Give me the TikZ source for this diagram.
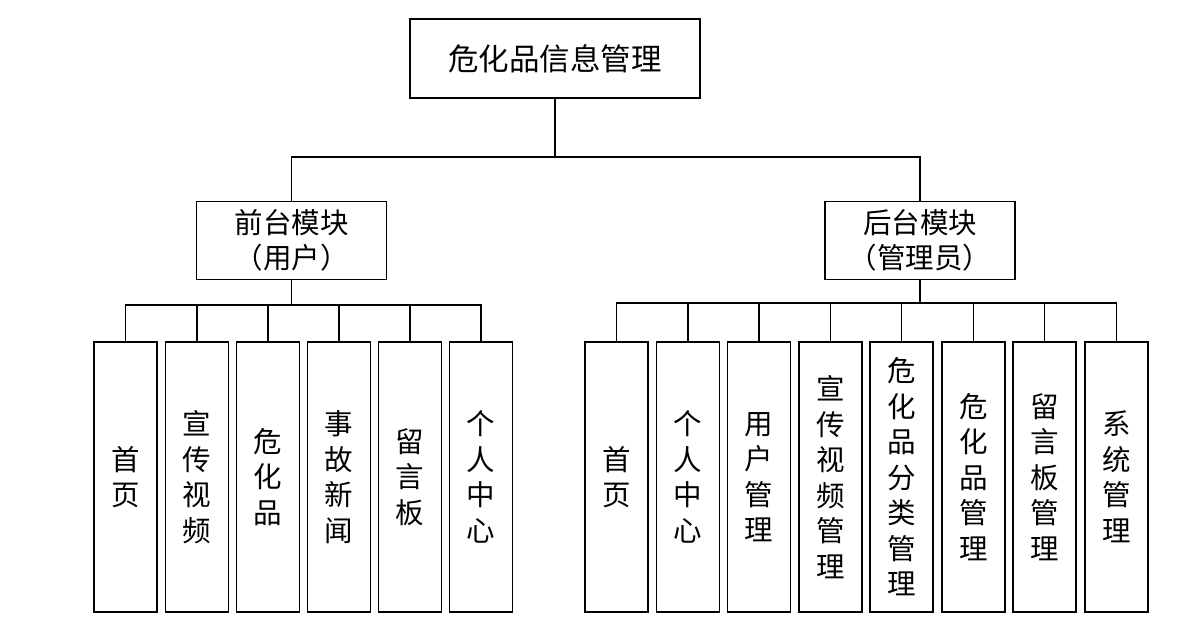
\documentclass[tikz,border=0pt]{standalone}
\usepackage{fontspec}
\setmainfont{Noto Sans CJK SC}
\begin{document}
\begin{tikzpicture}[x=1pt,y=-1pt,
  frame/.style={draw, line width=1.8pt, fill=white, inner sep=0pt, align=center},
  rootbox/.style={frame, minimum width=290pt, minimum height=79pt, font=\fontsize{30.5}{35}\selectfont},
  modbox/.style={frame, minimum width=190pt, minimum height=78pt, font=\fontsize{28.5}{35}\selectfont},
  leafbox/.style={frame, minimum width=63pt, minimum height=270pt, text width=40pt, font=\fontsize{28.5}{35.5}\selectfont},
  link/.style={line width=1.8pt}]
\useasboundingbox (0,0) rectangle (1187,619);
\fill[white] (0,0) rectangle (1187,619);

\node[rootbox] (root) at (555,58.5) {危化品信息管理};
\node[modbox] (front) at (291.5,240.5) {前台模块\\（用户）};
\node[modbox] (back) at (920,240.5) {后台模块\\（管理员）};

% front leaves
\node[leafbox] (f1) at (125.5,477) {首\\页};
\node[leafbox] (f2) at (197,477) {宣\\传\\视\\频};
\node[leafbox] (f3) at (268,477) {危\\化\\品};
\node[leafbox] (f4) at (339,477) {事\\故\\新\\闻};
\node[leafbox] (f5) at (410,477) {留\\言\\板};
\node[leafbox] (f6) at (481,477) {个\\人\\中\\心};

% back leaves
\node[leafbox] (b1) at (616.5,477) {首\\页};
\node[leafbox] (b2) at (688,477) {个\\人\\中\\心};
\node[leafbox] (b3) at (759,477) {用\\户\\管\\理};
\node[leafbox] (b4) at (830.5,477) {宣\\传\\视\\频\\管\\理};
\node[leafbox] (b5) at (901.5,477) {危\\化\\品\\分\\类\\管\\理};
\node[leafbox] (b6) at (973.5,477) {危\\化\\品\\管\\理};
\node[leafbox] (b7) at (1044.5,477) {留\\言\\板\\管\\理};
\node[leafbox] (b8) at (1116.5,477) {系\\统\\管\\理};

\coordinate (j0) at (555,157);
\coordinate (jf) at (291.5,305);
\coordinate (jb) at (920,303);

\draw[link] (root.south) -- (j0);
\draw[link] (front.north) -- (front.north |- j0) -- (back.north |- j0) -- (back.north);

\draw[link] (front.south) -- (jf);
\draw[link] (f1.north) -- (f1.north |- jf) -- (f6.north |- jf) -- (f6.north);
\foreach \n in {f2,f3,f4,f5} \draw[link] (\n.north) -- (\n.north |- jf);

\draw[link] (back.south) -- (jb);
\draw[link] (b1.north) -- (b1.north |- jb) -- (b8.north |- jb) -- (b8.north);
\foreach \n in {b2,b3,b4,b5,b6,b7} \draw[link] (\n.north) -- (\n.north |- jb);
\end{tikzpicture}
\end{document}
